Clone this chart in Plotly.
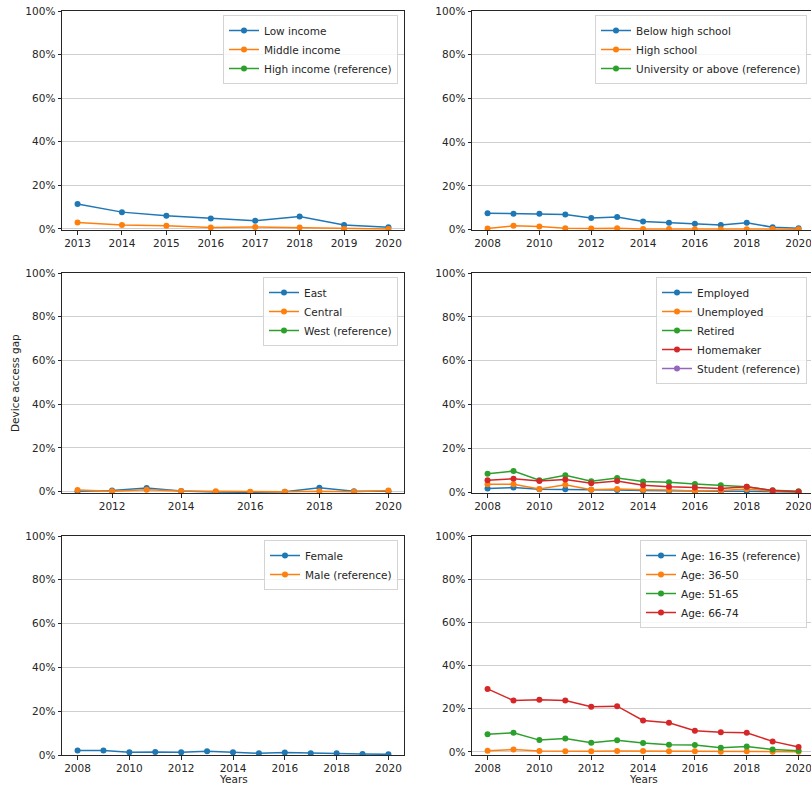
import plotly.graph_objects as go

# ---------------- data ----------------
years_income = [2013, 2014, 2015, 2016, 2017, 2018, 2019, 2020]
low_income = [0.114, 0.077, 0.060, 0.048, 0.037, 0.057, 0.018, 0.008]
middle_income = [0.029, 0.018, 0.015, 0.006, 0.009, 0.006, 0.000, 0.000]
high_income_ref = [None] * len(years_income)

years_edu = list(range(2008, 2021))
below_high_school = [0.075, 0.072, 0.072, 0.069, 0.053, 0.058, 0.037, 0.031, 0.027, 0.021, 0.031, 0.011, 0.006]
high_school = [0.005, 0.017, 0.014, 0.006, 0.005, 0.006, 0.003, 0.003, 0.002, 0.002, 0.002, 0.003, 0.002]
university_ref = [None] * len(years_edu)

years_region = list(range(2011, 2021))
east = [0.0015, 0.006, 0.017, 0.003, -0.0015, -0.003, 0.000, 0.018, 0.0015, 0.0015]
central = [0.008, 0.0015, 0.009, 0.003, 0.0015, 0.000, 0.000, 0.002, 0.000, 0.005]
west_ref = [None] * len(years_region)

years_emp = list(range(2008, 2021))
employed = [0.018, 0.022, 0.014, 0.014, 0.012, 0.011, 0.008, 0.006, 0.005, 0.005, 0.005, 0.002, 0.002]
unemployed = [0.037, 0.037, 0.015, 0.035, 0.012, 0.015, 0.012, 0.011, 0.006, 0.008, 0.015, 0.005, 0.003]
retired = [0.085, 0.097, 0.055, 0.078, 0.051, 0.065, 0.049, 0.046, 0.038, 0.032, 0.025, 0.009, 0.005]
homemaker = [0.055, 0.062, 0.052, 0.058, 0.042, 0.052, 0.032, 0.025, 0.022, 0.018, 0.025, 0.008, 0.003]
student_ref = [None] * len(years_emp)

years_gender = list(range(2008, 2021))
female = [0.020, 0.020, 0.012, 0.014, 0.012, 0.017, 0.012, 0.008, 0.011, 0.008, 0.008, 0.005, 0.003]
male_ref = [None] * len(years_gender)

years_age = list(range(2008, 2021))
age_16_35_ref = [None] * len(years_age)
age_36_50 = [0.006, 0.011, 0.005, 0.003, 0.003, 0.005, 0.005, 0.003, 0.003, 0.0015, 0.003, 0.0015, 0.0015]
age_51_65 = [0.082, 0.089, 0.055, 0.062, 0.043, 0.054, 0.042, 0.034, 0.032, 0.020, 0.025, 0.012, 0.006]
age_66_74 = [0.292, 0.238, 0.242, 0.238, 0.209, 0.212, 0.146, 0.135, 0.098, 0.091, 0.089, 0.049, 0.023]

y_ticks = [0, 0.2, 0.4, 0.6, 0.8, 1.0]

# ---------------- styling ----------------
C = ["#1f77b4", "#ff7f0e", "#2ca02c", "#d62728", "#9467bd"]
FONT = "DejaVu Sans"
FS = 10.5
W, H = 811, 787

panels = [
    dict(x=years_income, series=[("Low income", low_income), ("Middle income", middle_income),
                                 ("High income (reference)", high_income_ref)],
         xr=[2012.65, 2020.35], xt=years_income, yb=-0.005, dom=(62, 404, 11, 230), leg=(398, 15), right=False),
    dict(x=years_edu, series=[("Below high school", below_high_school), ("High school", high_school),
                              ("University or above (reference)", university_ref)],
         xr=[2007.4, 2020.48], xt=list(range(2008, 2021, 2)), yb=-0.002, dom=(472, 811, 11, 230), leg=(807, 15), right=True),
    dict(x=years_region, series=[("East", east), ("Central", central), ("West (reference)", west_ref)],
         xr=[2010.55, 2020.45], xt=list(range(2012, 2021, 2)), yb=-0.006, dom=(62, 404, 273, 493), leg=(398, 277), right=False),
    dict(x=years_emp, series=[("Employed", employed), ("Unemployed", unemployed), ("Retired", retired),
                              ("Homemaker", homemaker), ("Student (reference)", student_ref)],
         xr=[2007.4, 2020.48], xt=list(range(2008, 2021, 2)), yb=-0.003, dom=(472, 811, 273, 493), leg=(807, 277), right=True),
    dict(x=years_gender, series=[("Female", female), ("Male (reference)", male_ref)],
         xr=[2007.4, 2020.6], xt=list(range(2008, 2021, 2)), yb=0.0, dom=(62, 404, 536, 755), leg=(398, 540), right=False),
    dict(x=years_age, series=[("Age: 16-35 (reference)", age_16_35_ref), ("Age: 36-50", age_36_50),
                              ("Age: 51-65", age_51_65), ("Age: 66-74", age_66_74)],
         xr=[2007.4, 2020.48], xt=list(range(2008, 2021, 2)), yb=-0.014, dom=(472, 811, 536, 755), leg=(807, 540), right=True),
]

fig = go.Figure()
layout = dict(
    width=W, height=H, margin=dict(l=0, r=0, t=0, b=0, autoexpand=False),
    paper_bgcolor="white", plot_bgcolor="white",
    font=dict(family=FONT, size=FS, color="#262626"),
    showlegend=True,
)

for i, p in enumerate(panels):
    k = i + 1
    xa = "x" if k == 1 else f"x{k}"
    ya = "y" if k == 1 else f"y{k}"
    lg = "legend" if k == 1 else f"legend{k}"
    for j, (name, vals) in enumerate(p["series"]):
        fig.add_trace(go.Scatter(
            x=p["x"], y=vals, name=name, mode="lines+markers",
            line=dict(color=C[j], width=1.5), marker=dict(color=C[j], size=6),
            xaxis=xa, yaxis=ya, legend=lg, cliponaxis=True,
        ))
    x0, x1, yt, ybm = p["dom"]
    xd = [x0 / W, x1 / W]
    yd = [1 - ybm / H, 1 - yt / H]
    axis_common = dict(showline=True, linecolor="#262626", linewidth=1, ticks="outside", ticklen=3.5,
                       tickwidth=1, tickcolor="#262626", zeroline=False, automargin=False,
                       ticklabeloverflow="allow",
                       tickfont=dict(family=FONT, size=FS, color="#262626"))
    layout["xaxis" if k == 1 else f"xaxis{k}"] = dict(
        domain=xd, range=p["xr"], tickvals=p["xt"], ticktext=[str(t) for t in p["xt"]],
        showgrid=False, anchor=ya, mirror=True, **axis_common)
    layout["yaxis" if k == 1 else f"yaxis{k}"] = dict(
        domain=yd, range=[p["yb"], 1.0], tickvals=y_ticks, tickformat=".0%",
        showgrid=True, gridcolor="#cfcfcf", gridwidth=1, anchor=xa,
        mirror=(not p["right"]), **axis_common)
    lx, ly = p["leg"]
    layout[lg] = dict(
        x=lx / W, y=1 - ly / H, xanchor="right", yanchor="top", xref="paper", yref="paper",
        bgcolor="rgba(255,255,255,0.8)", bordercolor="#d4d4d4", borderwidth=1,
        font=dict(family=FONT, size=FS, color="#262626"), tracegroupgap=0,
        itemwidth=30,
    )

layout["annotations"] = [
    dict(text="Device access gap", x=15 / W, y=1 - 383 / H, xref="paper", yref="paper",
         textangle=-90, showarrow=False, font=dict(family=FONT, size=FS, color="#262626"),
         xanchor="center", yanchor="middle"),
    dict(text="Years", x=233 / W, y=1 - 779 / H, xref="paper", yref="paper", showarrow=False,
         font=dict(family=FONT, size=FS, color="#262626"), xanchor="center", yanchor="middle"),
    dict(text="Years", x=643 / W, y=1 - 779 / H, xref="paper", yref="paper", showarrow=False,
         font=dict(family=FONT, size=FS, color="#262626"), xanchor="center", yanchor="middle"),
]

fig.update_layout(**layout)
fig.write_html(
    "out.html",
    config={"displayModeBar": False},
    post_script="document.body.style.margin='0';document.body.style.overflow='hidden';",
)
